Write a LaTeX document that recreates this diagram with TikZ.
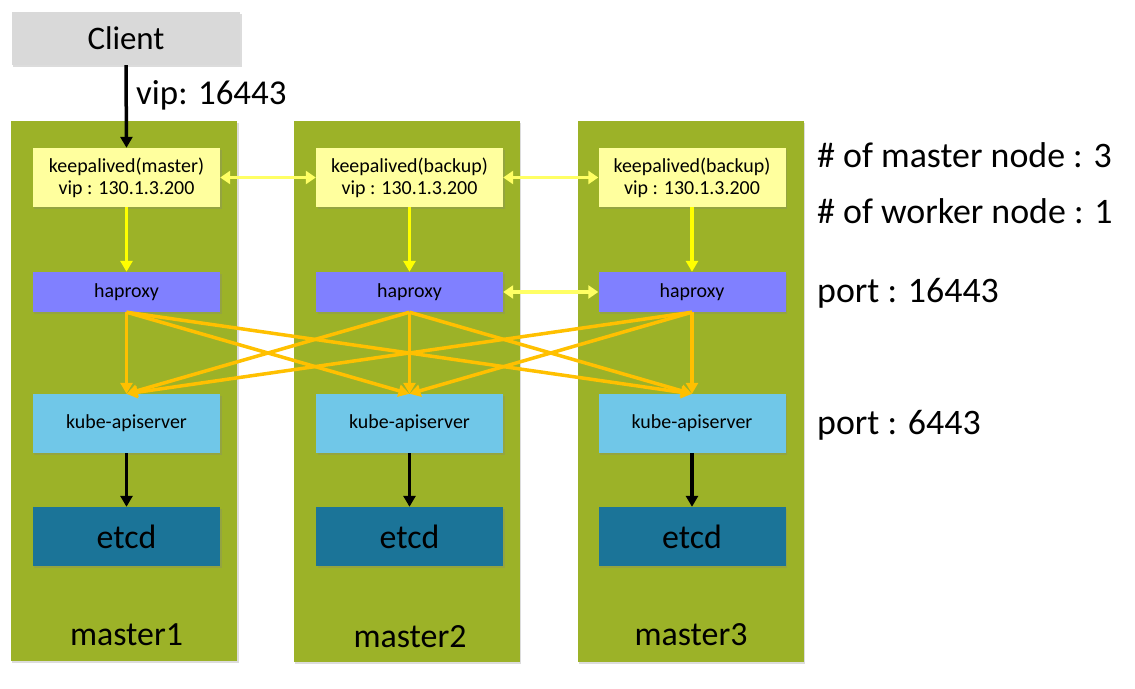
\documentclass[tikz,border=0pt]{standalone}
\usepackage{fontspec}
\setmainfont{Carlito}
\usetikzlibrary{arrows.meta,shadows}
\definecolor{panelgreen}{RGB}{156,178,40}
\definecolor{kpyellow}{RGB}{255,255,158}
\definecolor{hpblue}{RGB}{128,128,255}
\definecolor{kubeblue}{RGB}{112,199,232}
\definecolor{etcdblue}{RGB}{27,116,152}
\definecolor{clientgray}{RGB}{217,217,217}
\definecolor{arrowyellow}{RGB}{255,255,0}
\definecolor{paleyellow}{RGB}{255,255,100}
\definecolor{arroworange}{RGB}{255,192,0}
\begin{document}
\begin{tikzpicture}[x=1bp,y=-1bp,
  shad/.style={drop shadow={shadow xshift=1.5bp,shadow yshift=-2bp,opacity=0.28}},
  panelbox/.style={fill=panelgreen,minimum width=226bp,minimum height=540bp,inner sep=0,shad},
  inbox/.style={minimum width=187bp,inner sep=0,align=center,shad},
  kpbox/.style={inbox,fill=kpyellow,minimum height=59bp,font=\fontsize{20}{22}\selectfont},
  hpbox/.style={inbox,fill=hpblue,minimum height=40bp,font=\fontsize{20}{22}\selectfont},
  kubebox/.style={inbox,fill=kubeblue,minimum height=59bp,font=\fontsize{20}{22}\selectfont},
  etcdbox/.style={inbox,fill=etcdblue,minimum height=59bp,font=\fontsize{34}{40}\selectfont},
  biglabel/.style={font=\fontsize{35}{40}\selectfont,inner sep=0},
  blackarrow/.style={line width=3.5bp,draw=black,-{Triangle[length=11bp,width=12bp]}},
  yarrow/.style={line width=3.2bp,draw=arrowyellow,-{Triangle[length=11bp,width=12bp]}},
  dblarrow/.style={line width=3.2bp,draw=paleyellow,{Triangle[length=10bp,width=13bp]}-{Triangle[length=10bp,width=13bp]}},
  oarrow/.style={line width=3.5bp,draw=arroworange,-{Triangle[length=11bp,width=12bp]}}
]
\useasboundingbox (0,0) rectangle (1135,689);
% panels
\node[panelbox] (m1) at (124,391) {};
\node[panelbox] (m2) at (406.5,391.5) {};
\node[panelbox] (m3) at (690.5,391.5) {};
% client
\node[fill=clientgray,minimum width=228bp,minimum height=53bp,inner sep=0,shad,font=\fontsize{33}{38}\selectfont] (client) at (126,38.5) {Client};
\node[biglabel,anchor=west] (viplbl) at (136,95) {vip: 16443};
% keepalived
\node[kpbox] (k1) at (126.5,177.5) {keepalived(master)\\vip : 130.1.3.200};
\node[kpbox] (k2) at (409.5,177.5) {keepalived(backup)\\vip : 130.1.3.200};
\node[kpbox] (k3) at (692,177.5) {keepalived(backup)\\vip : 130.1.3.200};
% haproxy
\node[hpbox] (h1) at (126.5,292) {haproxy};
\node[hpbox] (h2) at (409.5,292) {haproxy};
\node[hpbox] (h3) at (692,292) {haproxy};
% kube-apiserver
\node[kubebox] (a1) at (126.5,423.5) {kube-apiserver};
\node[kubebox] (a2) at (409.5,423.5) {kube-apiserver};
\node[kubebox] (a3) at (692,423.5) {kube-apiserver};
% etcd
\node[etcdbox] (e1) at (126.5,536.5) {etcd};
\node[etcdbox] (e2) at (409.5,536.5) {etcd};
\node[etcdbox] (e3) at (692,536.5) {etcd};
% master labels
\node[biglabel,font=\fontsize{34}{40}\selectfont] (l1) at (126.5,635) {master1};
\node[biglabel,font=\fontsize{34}{40}\selectfont] (l2) at (410,637) {master2};
\node[biglabel,font=\fontsize{34}{40}\selectfont] (l3) at (691,635) {master3};
% right texts
\node[biglabel,anchor=west,font=\fontsize{36}{40}\selectfont] (t1) at (817,155) {\# of master node : 3};
\node[biglabel,anchor=west,font=\fontsize{36}{40}\selectfont] (t2) at (817,211) {\# of worker node : 1};
\node[biglabel,anchor=west,font=\fontsize{36}{40}\selectfont] (t3) at (817,293) {port : 16443};
\node[biglabel,anchor=west,font=\fontsize{36}{40}\selectfont] (t4) at (817,425) {port : 6443};
% arrows
\draw[blackarrow] (client.south) -- (k1.north);
\foreach \i in {1,2,3} {
  \draw[yarrow] (k\i.south) -- (h\i.north);
  \draw[blackarrow] (a\i.south) -- (e\i.north);
}
\draw[dblarrow] (k1.east) -- (k2.west);
\draw[dblarrow] (k2.east) -- (k3.west);
\draw[dblarrow] (h2.east) -- (h3.west);
\foreach \i in {1,2,3} {
  \foreach \j in {1,2,3} {
    \draw[oarrow] (h\i.south) -- (a\j.north);
  }
}
\end{tikzpicture}
\end{document}
